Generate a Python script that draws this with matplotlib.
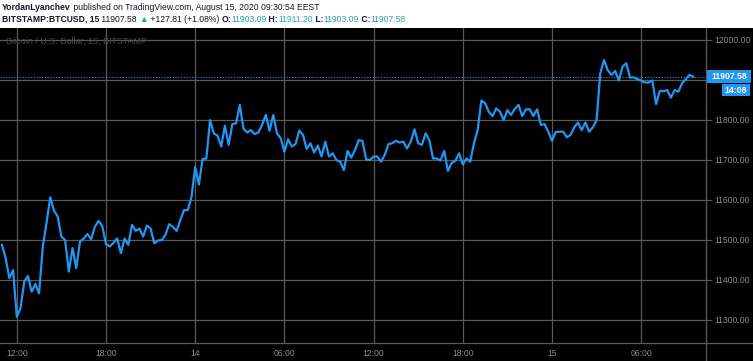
import matplotlib
matplotlib.use("Agg")
import matplotlib.pyplot as plt
import matplotlib.dates as mdates
from matplotlib.patches import Rectangle
from matplotlib.lines import Line2D
import pandas as pd

plt.rcParams["font.family"] = ["Liberation Sans", "DejaVu Sans"]

# BTCUSD, 15-minute closes from 13 Aug 11:00 to 15 Aug 09:30
start = "2020-08-13 11:00"
prices = [
    11487, 11454, 11404, 11424, 11307, 11329, 11395, 11409, 11370, 11389,
    11366, 11483, 11542, 11606, 11573, 11558, 11508, 11499, 11420, 11479,
    11429, 11495, 11503, 11514, 11501, 11532, 11547, 11534, 11489, 11483,
    11492, 11503, 11466, 11503, 11487, 11537, 11522, 11528, 11508, 11535,
    11528, 11491, 11498, 11499, 11512, 11539, 11532, 11522, 11549, 11574,
    11574, 11607, 11682, 11638, 11702, 11703, 11799, 11766, 11760, 11733,
    11785, 11737, 11789, 11791, 11837, 11777, 11768, 11774, 11764, 11768,
    11787, 11812, 11772, 11812, 11766, 11754, 11720, 11751, 11733, 11739,
    11773, 11762, 11727, 11741, 11718, 11735, 11708, 11745, 11708, 11716,
    11699, 11695, 11674, 11722, 11705, 11724, 11749, 11747, 11701, 11699,
    11708, 11708, 11695, 11712, 11739, 11741, 11747, 11743, 11745, 11728,
    11745, 11776, 11741, 11737, 11766, 11749, 11703, 11703, 11698, 11722,
    11672, 11692, 11697, 11716, 11688, 11703, 11695, 11741, 11774, 11848,
    11841, 11820, 11809, 11828, 11820, 11799, 11824, 11812, 11827, 11837,
    11809, 11826, 11826, 11809, 11826, 11787, 11789, 11770, 11747, 11769,
    11770, 11770, 11756, 11762, 11781, 11793, 11774, 11793, 11770, 11781,
    11799, 11916, 11949, 11924, 11912, 11922, 11898, 11933, 11941, 11905,
    11906, 11901, 11898, 11893, 11893, 11898, 11839, 11872, 11871, 11874,
    11855, 11874, 11870, 11891, 11901, 11912, 11907.58,
]
price_ticks = [11300, 11400, 11500, 11600, 11700, 11800, 11900, 12000]
last_price = prices[-1]
countdown = "14:08"
header1 = [("YordanLyanchev", "bold"), (" published on TradingView.com, August 15, 2020 09:30:54 EEST", "normal")]
header2 = ["BITSTAMP:BTCUSD, 15", " 11907.58 ", "▲", " +127.81 (+1.08%) ",
           "O:", "11903.09", " H:", "11911.20", " L:", "11903.09", " C:", "11907.58"]
watermark = "Bitcoin / U.S. Dollar, 15, BITSTAMP"

times = pd.date_range(start, periods=len(prices), freq="15min")

W, H = 753, 361
BLUE = "#2196f3"
GRID = "#5a5a5a"
TXT = "#8c8c8c"
TEAL = "#26a69a"
DARK = "#131722"

fig = plt.figure(figsize=(W / 100, H / 100), dpi=100, facecolor="black")

# white header strip
fig.patches.append(Rectangle((0, 1 - 28 / H), 1, 28 / H, transform=fig.transFigure,
                             facecolor="white", edgecolor="none", zorder=0))

ax = fig.add_axes([0, (H - 343) / H, 706 / W, (343 - 28) / H], facecolor="black")
ax.plot(times, prices, color=BLUE, lw=1.6, solid_joinstyle="round", zorder=3)
ax.axhline(last_price, color=BLUE, lw=0.8, ls=(0, (1, 1.5)), zorder=2)

bar = pd.Timedelta(minutes=15)
ax.set_xlim(times[0] - bar * 0.52, times[0] + bar * 189.44)
ax.set_ylim(11241.75, 12029.25)

ax.xaxis.set_major_locator(mdates.HourLocator(byhour=[0, 6, 12, 18]))
def fmt(x, pos):
    d = mdates.num2date(x)
    return d.strftime("%d") if d.hour == 0 else d.strftime("%H:%M")
ax.xaxis.set_major_formatter(plt.FuncFormatter(fmt))
ax.set_yticks(price_ticks)
ax.set_yticklabels([f"{p:.2f}" if p != 11900 else "" for p in price_ticks])
ax.yaxis.tick_right()
ax.tick_params(axis="y", colors=GRID, labelcolor=TXT, labelsize=6.2, length=4, width=0.8, pad=2)
ax.tick_params(axis="x", length=0, labelcolor=TXT, labelsize=6.2, pad=4)
ax.grid(True, color=GRID, lw=0.9)
for s in ["top", "left", "bottom"]:
    ax.spines[s].set_visible(False)
ax.spines["right"].set_color(GRID)

# axis lines of the panel
fig.lines.append(Line2D([0, 1], [(H - 343) / H] * 2, transform=fig.transFigure, color=GRID, lw=0.9))
fig.lines.append(Line2D([706 / W] * 2, [0, 1 - 28 / H], transform=fig.transFigure, color=GRID, lw=0.9))

fig.text(6 / W, 1 - 41 / H, watermark, fontsize=6.4, color="#4a4a4a", va="center")

# price label and countdown
ypix = H - ax.transData.transform((0, last_price))[1]
fig.patches.append(Rectangle((706 / W, 1 - (ypix + 6.5) / H), 45 / W, 13 / H, transform=fig.transFigure,
                             facecolor=BLUE, edgecolor="none"))
fig.text(711 / W, 1 - ypix / H, f"{last_price:.2f}", color="white", fontsize=6.2,
         fontweight="bold", va="center")
fig.patches.append(Rectangle((722 / W, 1 - (ypix + 19.5) / H), 28 / W, 12 / H, transform=fig.transFigure,
                             facecolor=BLUE, edgecolor="none"))
fig.text(736 / W, 1 - (ypix + 13.5) / H, countdown, color="white", fontsize=6.2,
         fontweight="bold", va="center", ha="center")

# header texts, pieces placed one after another
renderer = fig.canvas.get_renderer()
def put(x, y, s, color, weight):
    t = fig.text(x / W, 1 - y / H, s, color=color, fontsize=6.2, fontweight=weight, va="center")
    return t.get_window_extent(renderer).x1

x = 2
for s, w in header1:
    x = put(x, 7, s, DARK, w)
x = 2
for i, s in enumerate(header2):
    if i == 0:
        x = put(x, 19, s, DARK, "bold")
    elif s == "▲":
        x = put(x, 19, s, TEAL, "normal")
    elif s.strip().endswith(":"):
        x = put(x, 19, s, DARK, "bold")
    elif i >= 5:
        x = put(x, 19, s, TEAL, "normal")
    else:
        x = put(x, 19, s, DARK, "normal")

fig.savefig("out.png", dpi=100, facecolor="black")
